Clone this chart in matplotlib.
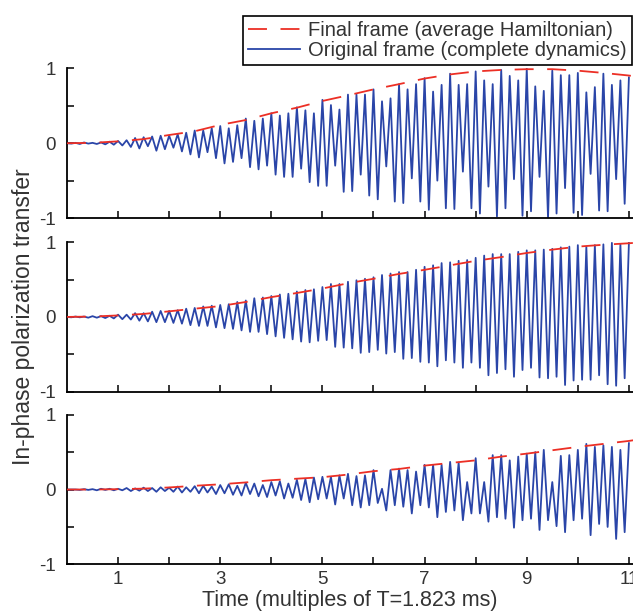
import numpy as np
import matplotlib
matplotlib.use('Agg')
import matplotlib.pyplot as plt

plt.rcParams['font.family'] = ['Liberation Sans', 'DejaVu Sans']

# time of the envelope samples (multiples of T)
env_t = [0, 0.5, 1, 1.5, 2, 2.5, 3, 3.5, 4, 4.5, 5, 5.5, 6, 6.5, 7, 7.5,
         8, 8.5, 9, 9.5, 10, 10.5, 11, 11.1]

# red dashed envelopes (average Hamiltonian), one per panel
env_top = [0, 0.005, 0.025, 0.055, 0.11, 0.16, 0.245, 0.31, 0.40, 0.475, 0.565, 0.64,
           0.72, 0.79, 0.865, 0.92, 0.96, 0.98, 0.99, 0.99, 0.97, 0.94, 0.905, 0.895]
env_mid = [0, 0.005, 0.02, 0.04, 0.075, 0.11, 0.145, 0.20, 0.265, 0.32, 0.38, 0.45,
           0.51, 0.575, 0.63, 0.69, 0.75, 0.80, 0.855, 0.90, 0.94, 0.965, 0.985, 0.99]
env_bot = [0, 0.0, 0.005, 0.012, 0.028, 0.05, 0.07, 0.095, 0.125, 0.145, 0.165, 0.20,
           0.245, 0.275, 0.32, 0.355, 0.39, 0.44, 0.48, 0.525, 0.57, 0.61, 0.65, 0.66]

# blue curve (complete dynamics): successive maxima and minima, one every T/12
peaks_top = [0, 0.005, 0.01, 0.005, 0.01, 0.02,
             0.03, 0.04, 0.07, 0.08, 0.09, 0.10, 0.10, 0.12, 0.14, 0.17, 0.17, 0.20,
             0.23, 0.20, 0.24, 0.33, 0.30, 0.33, 0.40, 0.37, 0.40, 0.48, 0.44, 0.40,
             0.58, 0.51, 0.45, 0.65, 0.65, 0.65, 0.72, 0.56, 0.60, 0.79, 0.72, 0.79,
             0.87, 0.69, 0.78, 0.93, 0.78, 0.79, 0.96, 0.84, 0.79, 0.98, 0.90, 0.84,
             1.0, 0.76, 0.70, 0.97, 0.91, 0.91, 0.94, 0.68, 0.75, 0.93, 0.78, 0.84, 0.88]
troughs_top = [-0.005, -0.01, -0.005, -0.01, -0.015,
               -0.02, -0.03, -0.05, -0.07, -0.04, -0.10, -0.08, -0.06, -0.11, -0.15,
               -0.19, -0.12, -0.20, -0.27, -0.25, -0.20, -0.32, -0.35, -0.30, -0.42,
               -0.45, -0.45, -0.34, -0.52, -0.57,
               -0.57, -0.30, -0.65, -0.64, -0.42, -0.70, -0.75, -0.31, -0.78, -0.80,
               -0.47, -0.78, -0.89, -0.50, -0.87, -0.88, -0.38, -0.87, -0.94, -0.58,
               -0.98, -0.87, -0.48, -0.97, -0.91, -0.45, -1.0, -0.94, -0.60, -0.93,
               -0.96, -0.41, -0.90, -0.91, -0.48, -0.81]

peaks_mid = [0, 0.005, 0.005, 0.01, 0.01, 0.015,
             0.03, 0.03, 0.05, 0.05, 0.07, 0.08, 0.08, 0.09, 0.11, 0.12, 0.14, 0.15,
             0.16, 0.17, 0.20, 0.22, 0.25, 0.26, 0.28, 0.30, 0.31, 0.34, 0.36, 0.37,
             0.40, 0.44, 0.44, 0.47, 0.49, 0.51, 0.53, 0.56, 0.58, 0.60, 0.60, 0.63,
             0.67, 0.69, 0.72, 0.73, 0.75, 0.76, 0.79, 0.82, 0.84, 0.84, 0.84, 0.87,
             0.89, 0.89, 0.90, 0.91, 0.93, 0.94, 0.96, 0.94, 0.96, 0.97, 0.99, 0.97, 0.99]
troughs_mid = [-0.005, -0.005, -0.01, -0.01, -0.015,
               -0.02, -0.03, -0.035, -0.05, -0.06, -0.07, -0.07, -0.08, -0.09, -0.11,
               -0.12, -0.12, -0.14, -0.15, -0.16, -0.18, -0.20, -0.20, -0.23, -0.26,
               -0.28, -0.30, -0.33, -0.34, -0.32,
               -0.31, -0.40, -0.41, -0.42, -0.48, -0.47, -0.44, -0.49, -0.47, -0.56,
               -0.55, -0.60, -0.61, -0.66, -0.58, -0.61, -0.68, -0.61, -0.68, -0.78,
               -0.75, -0.70, -0.80, -0.71, -0.68, -0.81, -0.82, -0.80, -0.91, -0.85,
               -0.84, -0.84, -0.78, -0.90, -0.92, -0.82]

peaks_bot = [0, 0.0, 0.005, 0.005, 0.01, 0.01,
             0.01, 0.02, 0.015, 0.025, 0.02, 0.03, 0.025, 0.04, 0.03, 0.045, 0.05, 0.04,
             0.06, 0.07, 0.05, 0.09, 0.08, 0.06, 0.10, 0.11, 0.08, 0.13, 0.14, 0.16,
             0.17, 0.17, 0.19, 0.21, 0.18, 0.19, 0.26, 0.01, 0.26, 0.28, 0.26, 0.24,
             0.33, 0.33, 0.33, 0.37, 0.36, 0.10, 0.42, 0.10, 0.46, 0.46, 0.39, 0.44,
             0.48, 0.50, 0.53, 0.10, 0.45, 0.46, 0.53, 0.61, 0.57, 0.59, 0.57, 0.53, 0.62]
troughs_bot = [0, -0.005, -0.005, -0.01, -0.005,
               -0.01, -0.01, -0.02, -0.015, -0.02, -0.03, -0.02, -0.03, -0.04, -0.03,
               -0.05, -0.04, -0.06, -0.05, -0.07, -0.08, -0.06, -0.09, -0.10, -0.08,
               -0.12, -0.11, -0.14, -0.17, -0.13,
               -0.12, -0.20, -0.12, -0.21, -0.24, -0.21, -0.18, -0.28, -0.21, -0.23,
               -0.32, -0.21, -0.24, -0.37, -0.30, -0.28, -0.41, -0.32, -0.32, -0.43,
               -0.37, -0.39, -0.51, -0.41, -0.39, -0.54, -0.41, -0.49, -0.57, -0.41,
               -0.39, -0.61, -0.46, -0.50, -0.66, -0.57]

dt = 1 / 12  # spacing of the extrema in units of T

x_ticks = list(range(1, 12))
x_ticklabels = ['1', '', '3', '', '5', '', '7', '', '9', '', '11']
y_ticks = [-1, -0.5, 0, 0.5, 1]
y_ticklabels = ['-1', '', '0', '', '1']

blue = '#2a45a8'
red = '#ec2f25'
txt = '#333333'


def zigzag(peaks, troughs):
    v = np.empty(len(peaks) + len(troughs))
    v[0::2] = peaks
    v[1::2] = troughs
    return np.arange(len(v)) * dt, v


fig = plt.figure(figsize=(6.33, 6.11), dpi=100)
left = 67 / 633
width = 1 - left
h = 0.2448
bottoms = [0.6432, 0.3589, 0.0764]
panels = [(peaks_top, troughs_top, env_top),
          (peaks_mid, troughs_mid, env_mid),
          (peaks_bot, troughs_bot, env_bot)]

axes = []
for i, (pk, tr, env) in enumerate(panels):
    ax = fig.add_axes([left, bottoms[i], width, h])
    t, v = zigzag(pk, tr)
    lb, = ax.plot(t, v, color=blue, lw=1.3, zorder=2)
    lr, = ax.plot(env_t, env, color=red, lw=1.3, dashes=(10.5, 7.5), zorder=3)
    ax.set_xlim(0, 11.08)
    ax.set_ylim(-1, 1)
    ax.set_yticks(y_ticks)
    ax.set_yticklabels(y_ticklabels)
    ax.set_xticks(x_ticks)
    if i == 2:
        ax.set_xticklabels(x_ticklabels)
    else:
        ax.set_xticklabels([])
    for s in ['top', 'right']:
        ax.spines[s].set_visible(False)
    for s in ['left', 'bottom']:
        ax.spines[s].set_linewidth(1.3)
    ax.tick_params(direction='in', length=5, width=1.1, labelsize=13.5,
                   labelcolor=txt)
    ax.tick_params(axis='y', pad=8)
    ax.tick_params(axis='x', pad=5)
    axes.append(ax)

axes[2].set_xlabel('Time (multiples of T=1.823 ms)', fontsize=15.5, color=txt, labelpad=1)
axes[1].set_ylabel('In-phase polarization transfer', fontsize=16.5, color=txt, labelpad=3)

leg = fig.legend([lr, lb], ['Final frame (average Hamiltonian)',
                            'Original frame (complete dynamics)'],
                 loc='upper right', bbox_to_anchor=(632 / 633, 1 - 16 / 611),
                 fontsize=14.5, frameon=True, fancybox=False, framealpha=1,
                 edgecolor='black', handlelength=2.6, borderpad=0.25,
                 labelspacing=0.05, handletextpad=0.4, borderaxespad=0)
leg.get_frame().set_linewidth(1.2)
for tx in leg.get_texts():
    tx.set_color(txt)

fig.savefig('out.png', dpi=100)
